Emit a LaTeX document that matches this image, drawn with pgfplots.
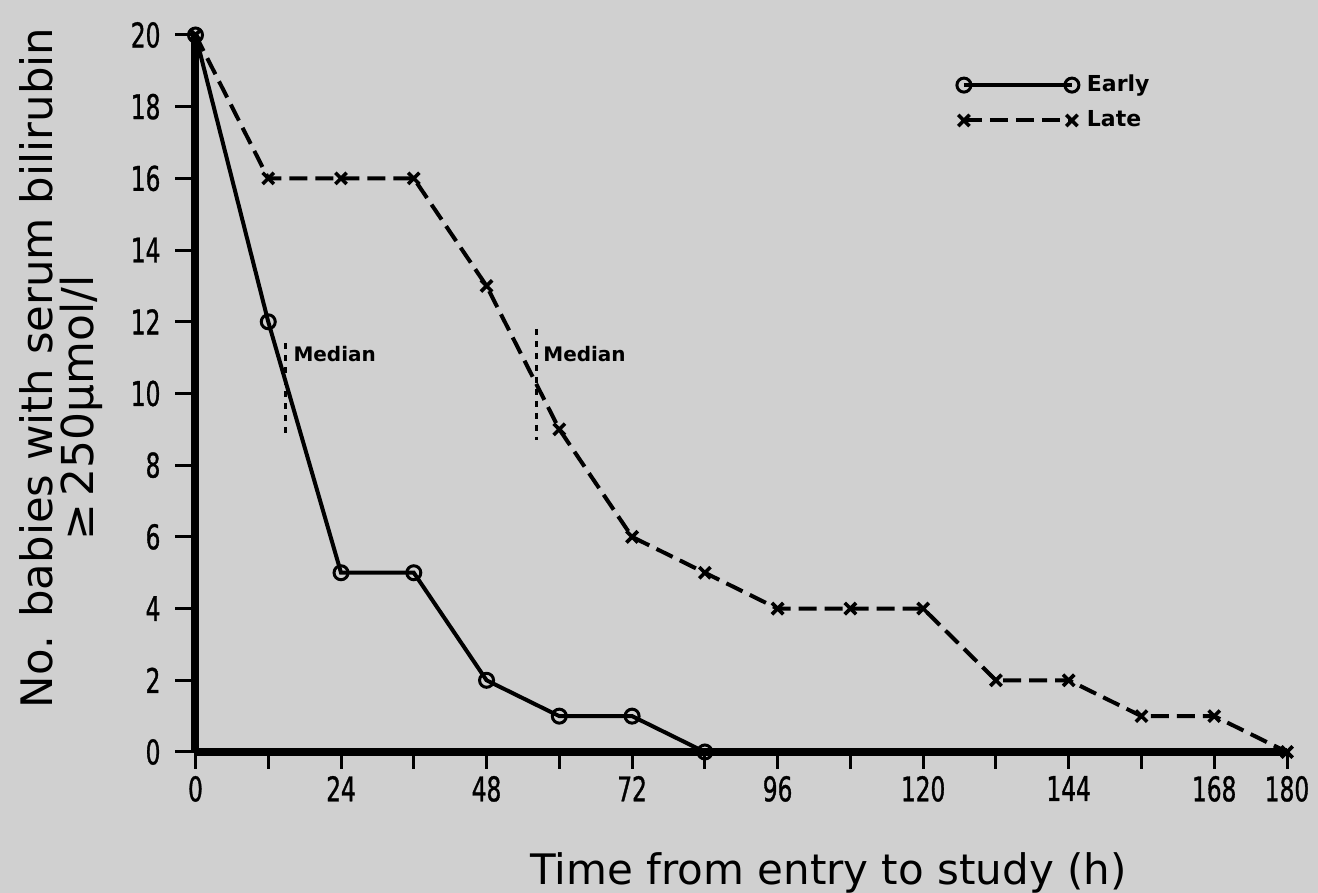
\documentclass[border=0pt]{standalone}
\usepackage{fontspec}
\setmainfont{DejaVu Sans}
\newfontfamily\condfont{DejaVu Sans Condensed}[FakeStretch=0.76, FakeBold=1]
\usepackage{pgfplots}
\pgfplotsset{compat=1.18}
\definecolor{bgcol}{RGB}{208,208,208}

\begin{document}
\begin{tikzpicture}
\path[use as bounding box, fill=bgcol] (-97.75pt,-70.5pt) rectangle (561.25pt,376pt);
\begin{axis}[
  at={(0,0)}, anchor=south west,
  scale only axis, width=545.75pt, height=358.5pt,
  xmin=0, xmax=180, ymin=0, ymax=20,
  clip=false,
  axis x line=bottom, axis y line=left,
  axis line style={line width=4pt, -},
  xtick={0,12,...,180},
  xticklabels={0,,24,,48,,72,,96,,120,,144,,168,180},
  ytick={0,2,...,20},
  tick align=outside,
  major tick length=10pt,
  every tick/.style={draw=none},
  ticklabel style={font=\condfont\fontsize{17}{17}\selectfont},
  yticklabel style={xshift=-4pt},
  xticklabel style={yshift=1.5pt},
  /pgf/number format/assume math mode=true,
  xlabel={Time from entry to study (h)},
  xlabel style={font=\fontsize{21}{21}\selectfont, at={(axis description cs:0.580,0)}, anchor=north, yshift=-47pt},
  ylabel={No. babies with serum bilirubin},
  ylabel style={font=\fontsize{21.7}{22}\selectfont, at={(axis description cs:-0.1462,0.5356)}, anchor=center},
  legend style={draw=none, fill=none, at={(axis cs:125.5,19.0)}, anchor=north west,
    font=\bfseries\fontsize{11}{11}\selectfont, row sep=4pt, inner sep=0pt,
    nodes={inner sep=2pt}, /tikz/every odd column/.append style={column sep=2pt}},
  legend cell align=left,
  legend image code/.code={\draw[#1] plot coordinates {(0pt,0pt) (54pt,0pt)};},
]
\addplot[black, line width=2pt, mark=o, mark size=3.5pt,
  mark options={solid, fill=bgcol, line width=1.5pt}]
  coordinates {(0,20) (12,12) (24,5) (36,5) (48,2) (60,1) (72,1) (84,0)};
\addlegendentry{Early}
\addplot[black, line width=2pt, dash pattern=on 9pt off 4pt, mark=x, mark size=4pt,
  mark options={solid, line width=1.8pt}]
  coordinates {(0,20) (12,16) (24,16) (36,16) (48,13) (60,9) (72,6) (84,5) (96,4) (108,4) (120,4) (132,2) (144,2) (156,1) (168,1) (180,0)};
\addlegendentry{Late}
\draw[line width=1.5pt, dash pattern=on 3pt off 3pt] (axis cs:14.8,11.4) -- (axis cs:14.8,8.9);
\node[anchor=west, font=\bfseries\fontsize{10}{10}\selectfont, inner sep=0pt] at (axis cs:16.1,11.1) {Median};
\draw[line width=1.5pt, dash pattern=on 3pt off 3pt] (axis cs:56.3,11.8) -- (axis cs:56.3,8.7);
\node[anchor=west, font=\bfseries\fontsize{10}{10}\selectfont, inner sep=0pt] at (axis cs:57.3,11.1) {Median};
\node[rotate=90, anchor=center, font=\fontsize{22}{22}\selectfont] at (axis description cs:-0.105,0.48) {≥\,250μmol/l};
\end{axis}
\foreach \x in {0,12,...,180} {
  \draw[line width=1.5pt, black] ({\x*3.031944pt},0pt) -- ++(0pt,-8.5pt);
}
\foreach \y in {0,2,...,20} {
  \draw[line width=1.5pt, black] (0pt,{\y*17.925pt}) -- ++(-10pt,0pt);
}
\end{tikzpicture}
\end{document}
